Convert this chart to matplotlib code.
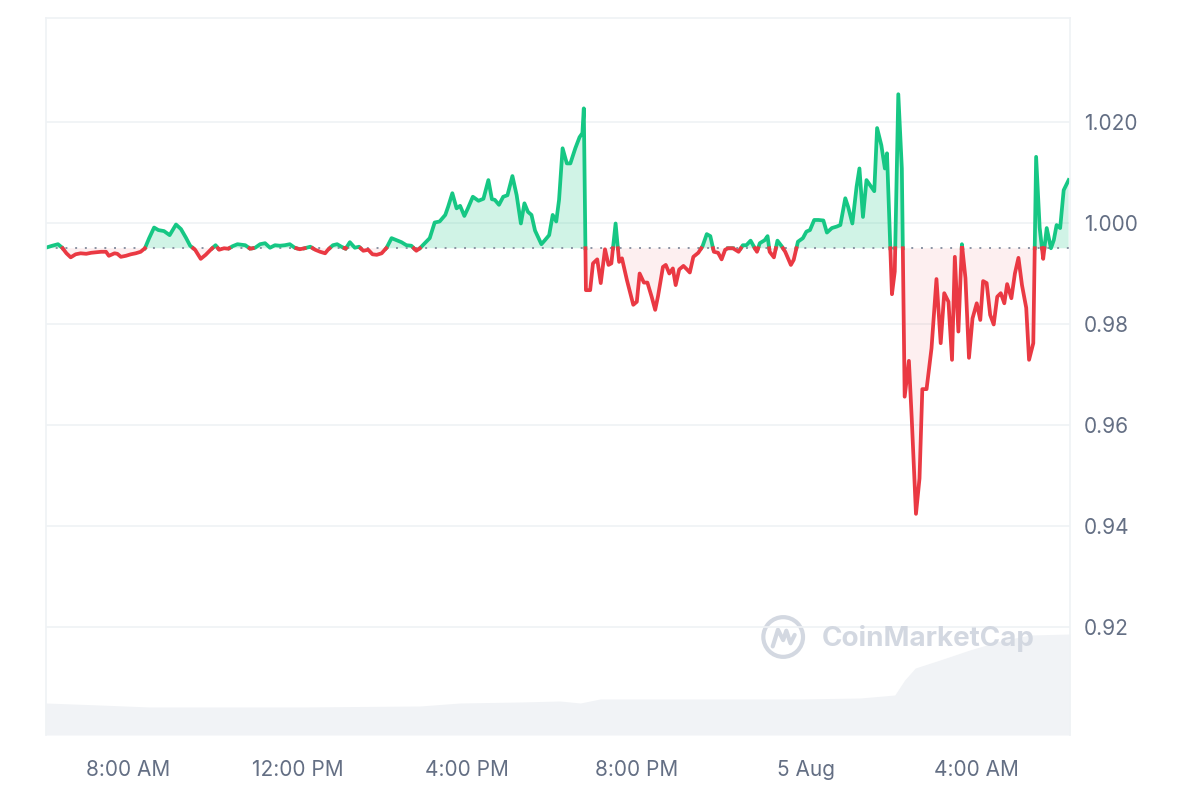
import numpy as np
import matplotlib.pyplot as plt
from matplotlib.patches import Circle

plt.rcParams['font.family'] = ['Inter', 'DejaVu Sans']

# time in minutes after midnight, 4 Aug (values past 1440 are 5 Aug)
times = [366, 373, 381, 387, 393, 399, 406, 413, 421, 428, 435, 442, 449, 453, 461, 465, 470, 477, 484, 491,
         498, 504, 510, 517, 523, 531, 539, 548, 555, 562, 568, 575, 583, 590, 597, 604, 609, 616, 622, 628, 635,
         646, 653, 660, 667, 674, 681, 688, 695, 702, 709, 716, 723, 730, 738, 745, 752, 759, 763, 770, 776,
         782, 788, 794, 801, 807, 813, 820, 826, 832, 839, 846, 853, 860, 867, 874, 881, 888,
         893, 900, 907, 914, 921, 929, 933, 939, 945, 950, 956, 961, 968, 976, 983, 990, 995, 999, 1005, 1011,
         1017, 1024, 1030, 1036, 1041, 1046, 1051, 1056, 1065, 1070, 1076, 1081, 1086, 1090, 1095, 1101, 1106,
         1113, 1119, 1123, 1125, 1128,
         1134, 1138, 1144, 1149, 1155, 1160, 1164, 1170, 1175, 1179, 1186, 1195, 1200, 1204, 1210, 1215, 1221,
         1226, 1230, 1237, 1241, 1246, 1251, 1255, 1260, 1266, 1271, 1275, 1280, 1287, 1293, 1299, 1304, 1309, 1315,
         1320, 1325, 1329, 1336, 1344, 1350, 1355, 1361, 1367, 1370, 1374, 1381, 1385, 1388, 1394, 1399, 1405,
         1410, 1418, 1422, 1428, 1435, 1440, 1445, 1451, 1457, 1464, 1469, 1476, 1483, 1488, 1495, 1499, 1505,
         1511, 1515, 1520, 1525, 1530, 1536, 1540, 1546, 1551, 1554, 1561, 1565, 1570, 1575, 1579, 1585, 1589,
         1595, 1600, 1604, 1610, 1617, 1624, 1630, 1635, 1641, 1646, 1650, 1655, 1660, 1665, 1670, 1675, 1681,
         1686, 1690, 1695, 1700, 1705, 1710, 1715, 1720, 1724, 1730, 1735, 1740, 1745, 1751, 1755, 1761, 1765,
         1770, 1775, 1780, 1786, 1790, 1794, 1799, 1804, 1811]

prices = [0.9952, 0.9955, 0.9958, 0.9951, 0.9940, 0.9932, 0.9938, 0.9940, 0.9939, 0.9941, 0.9942, 0.9943, 0.9943,
          0.9935, 0.9940, 0.9939, 0.9933, 0.9935, 0.9938, 0.9940, 0.9943, 0.9950, 0.9970, 0.9991, 0.9986, 0.9984,
          0.9976, 0.9997, 0.9988, 0.9971, 0.9955, 0.9947, 0.9929, 0.9937, 0.9947, 0.9956, 0.9947, 0.9950, 0.9949,
          0.9954, 0.9958,
          0.9956, 0.9949, 0.9951, 0.9958, 0.9960, 0.9951, 0.9956, 0.9955, 0.9956, 0.9958, 0.9951, 0.9948, 0.9950,
          0.9953, 0.9947, 0.9943, 0.9940, 0.9947, 0.9956, 0.9958, 0.9953, 0.9949, 0.9962, 0.9951, 0.9953, 0.9945,
          0.9947, 0.9938, 0.9937, 0.9940, 0.9951, 0.9970, 0.9966, 0.9962, 0.9956, 0.9955, 0.9945,
          0.9950, 0.9960, 0.9970, 1.0001, 1.0003, 1.0016, 1.0032, 1.0059, 1.0029, 1.0034, 1.0014, 1.0029, 1.0052,
          1.0044, 1.0048, 1.0085, 1.0047, 1.0046, 1.0036, 1.0052, 1.0055, 1.0093, 1.0055, 0.9999, 1.0039, 1.0022,
          1.0016, 0.9985, 0.9958, 0.9966, 0.9976, 1.0016, 1.0003, 1.0046, 1.0148, 1.0118, 1.0118, 1.0148, 1.0170,
          1.0178, 1.0227, 0.9867,
          0.9867, 0.9920, 0.9928, 0.9881, 0.9948, 0.9917, 0.9920, 0.9999, 0.9923, 0.9930, 0.9887, 0.9838, 0.9844,
          0.9900, 0.9882, 0.9882, 0.9854, 0.9828, 0.9855, 0.9913, 0.9917, 0.9900, 0.9910, 0.9877, 0.9908, 0.9915,
          0.9908, 0.9902, 0.9933, 0.9941, 0.9954, 0.9978, 0.9974, 0.9943, 0.9941,
          0.9928, 0.9947, 0.9950, 0.9950, 0.9943, 0.9956, 0.9956, 0.9965, 0.9950, 0.9943, 0.9960, 0.9966, 0.9974,
          0.9943, 0.9932, 0.9965, 0.9954, 0.9943, 0.9917, 0.9927, 0.9963, 0.9970, 0.9983, 0.9986, 1.0006, 1.0006,
          1.0005, 0.9981, 0.9990, 0.9993, 0.9996, 1.0049, 1.0032, 0.9999, 1.0072, 1.0108, 1.0012, 1.0085, 1.0075,
          1.0063, 1.0188, 1.0154, 1.0108, 1.0138, 0.9859, 0.9904, 1.0255, 1.0108, 0.9656, 0.9727, 0.9613, 0.9424,
          0.9494, 0.9671, 0.9671, 0.9752, 0.9889, 0.9762, 0.9861, 0.9844, 0.9729, 0.9933, 0.9785, 0.9958, 0.9891,
          0.9733, 0.9811, 0.9841, 0.9808, 0.9885, 0.9881, 0.9818, 0.9799, 0.9854, 0.9861, 0.9841, 0.9879, 0.9851,
          0.9900, 0.9931, 0.9877, 0.9832, 0.9729, 0.9762, 1.0131, 0.9991, 0.9929, 0.9990, 0.9950, 0.9966, 0.9996,
          0.9990, 1.0065, 1.0085]

open_price = 0.995

# 24h volume (millions USD), drawn as grey area at the bottom
vol_times = [364, 440, 511, 723, 893, 950, 1035, 1091, 1120, 1148, 1289, 1431, 1516, 1565, 1579, 1594, 1629,
             1671, 1714, 1756, 1813]
volume = [3.2, 3.0, 2.8, 2.8, 2.9, 3.2, 3.3, 3.4, 3.2, 3.6, 3.6, 3.6, 3.7, 4.0, 5.5, 6.7, 7.5, 8.5, 9.4, 10.0, 10.1]

x_ticks = [480, 720, 960, 1200, 1440, 1680]
x_labels = ["8:00 AM", "12:00 PM", "4:00 PM", "8:00 PM", "5 Aug", "4:00 AM"]
y_ticks = [0.92, 0.94, 0.96, 0.98, 1.00, 1.02]
y_labels = ["0.92", "0.94", "0.96", "0.98", "1.000", "1.020"]

GREEN = "#16c784"
RED = "#ea3943"
GREY = "#646f84"
LIGHT = "#eff2f5"

# add the points where the line crosses the open price so colours switch cleanly
xs, ys = [times[0]], [prices[0]]
for i in range(1, len(times)):
    p0, p1 = prices[i - 1], prices[i]
    if (p0 - open_price) * (p1 - open_price) < 0:
        t = (open_price - p0) / (p1 - p0)
        xs.append(times[i - 1] + t * (times[i] - times[i - 1]))
        ys.append(open_price)
    xs.append(times[i])
    ys.append(p1)
xs = np.array(xs)
ys = np.array(ys)
up = np.where(ys >= open_price, ys, np.nan)
down = np.where(ys <= open_price, ys, np.nan)

fig = plt.figure(figsize=(12, 8), dpi=100)
ax = fig.add_axes([0.0383, 0.08125, 0.8534, 0.89625])
ax2 = ax.twinx()

# volume
ax2.fill_between(vol_times, volume, 0, color="#f1f3f6", lw=0)
ax2.set_ylim(0, 71.7)
ax2.set_yticks([])
for s in ax2.spines.values():
    s.set_visible(False)
ax.set_zorder(ax2.get_zorder() + 1)
ax.patch.set_visible(False)

ax.fill_between(xs, ys, open_price, where=ys >= open_price, color=GREEN, alpha=0.2, lw=0)
ax.fill_between(xs, ys, open_price, where=ys <= open_price, color=RED, alpha=0.08, lw=0)
ax.plot(xs, up, color=GREEN, lw=2.7, solid_joinstyle="round")
ax.plot(xs, down, color=RED, lw=2.7, solid_joinstyle="round")
ax.axhline(open_price, color="#8a93a3", lw=1.4, ls=(0, (1, 4)), zorder=1)

ax.set_xlim(364, 1813)
ax.set_ylim(0.8986, 1.0406)
ax.set_xticks(x_ticks)
ax.set_xticklabels(x_labels)
ax.set_yticks(y_ticks)
ax.set_yticklabels(y_labels)
ax.yaxis.tick_right()
ax.tick_params(axis="both", length=0, labelsize=15, labelcolor=GREY)
ax.tick_params(axis="x", pad=18)
ax.tick_params(axis="y", pad=10)
ax.grid(axis="y", color=LIGHT, lw=1.2)
ax.set_axisbelow(True)
for side in ["left", "right", "top"]:
    ax.spines[side].set_color(LIGHT)
    ax.spines[side].set_linewidth(1.2)
ax.spines["bottom"].set_visible(False)

# watermark
logo = fig.add_axes([0.6335, 0.175, 0.0383, 0.0575])
logo.set_xlim(-1.1, 1.1)
logo.set_ylim(-1.1, 1.1)
logo.set_aspect("equal")
logo.axis("off")
logo.add_patch(Circle((0, 0), 0.95, fill=False, ec="#d3d8e1", lw=3))
logo.plot([-0.5, -0.25, 0.0, 0.15, 0.35, 0.55], [-0.45, 0.35, -0.15, 0.3, -0.3, 0.1],
          color="#d3d8e1", lw=3, solid_capstyle="round")
fig.text(0.685, 0.2025, "CoinMarketCap", fontsize=20, fontweight="bold", color="#d3d8e1",
         va="center", ha="left")

fig.savefig("out.png", dpi=100)
